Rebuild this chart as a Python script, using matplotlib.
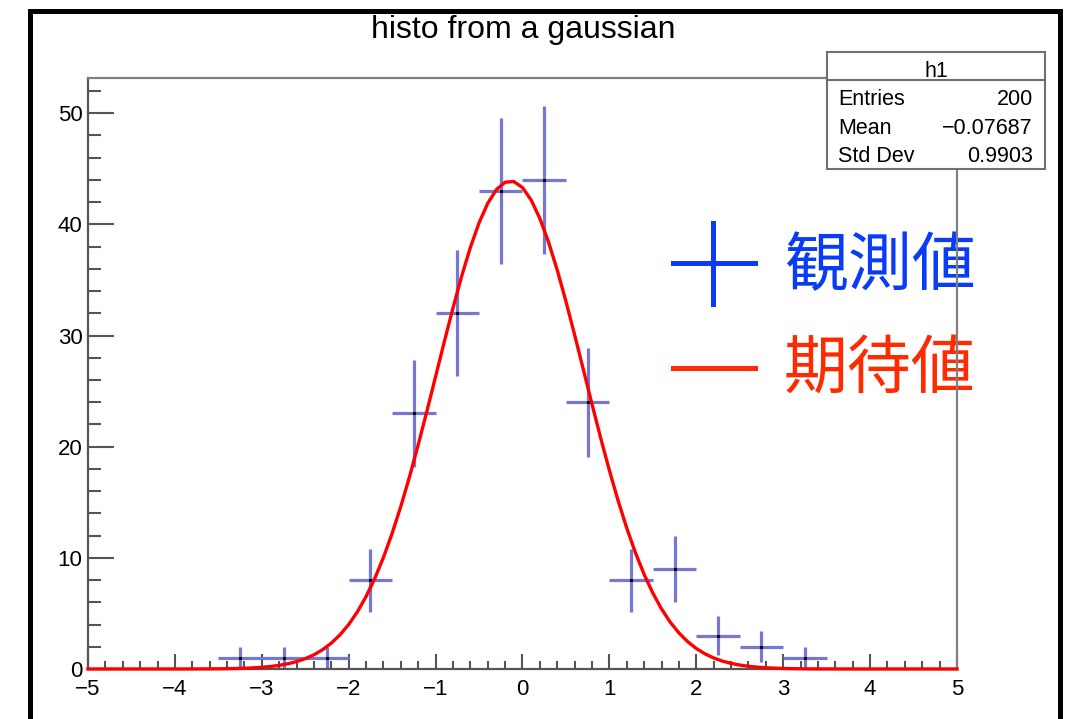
import numpy as np
import matplotlib
matplotlib.use("Agg")
import matplotlib.pyplot as plt
from matplotlib.patches import Rectangle
from matplotlib.lines import Line2D

plt.rcParams['font.family'] = ['Liberation Sans', 'DejaVu Sans']

# histogram h1: 20 bins of width 0.5 on [-5, 5], only non-empty bins listed
bin_centers = [-3.25, -2.75, -2.25, -1.75, -1.25, -0.75, -0.25, 0.25, 0.75, 1.25, 1.75, 2.25, 2.75, 3.25]
counts = [1, 1, 1, 8, 23, 32, 43, 44, 24, 8, 9, 3, 2, 1]
bin_width = 0.5

# gaussian fit parameters (constant, mean, sigma)
fit_const = 43.9
fit_mean = -0.14
fit_sigma = 0.85

stats_labels = ["Entries", "Mean", "Std Dev"]
stats_values = ["200", "\u22120.07687", "0.9903"]

W, H = 1072, 719


def fx(x):
    return x / W


def fy(y):
    return 1 - y / H


fig = plt.figure(figsize=(W / 100, H / 100), dpi=100)
ax = fig.add_axes([fx(88), fy(669), fx(957) - fx(88), fy(78) - fy(669)])

centers = np.array(bin_centers)
n = np.array(counts, dtype=float)
ax.errorbar(centers, n, xerr=bin_width / 2, yerr=np.sqrt(n), fmt='none',
            ecolor='#7676d4', elinewidth=2.3, capsize=0, zorder=2)
ax.plot(centers, n, 's', ms=1.2, color='black', zorder=2.1)

xf = np.linspace(-5, 5, 101)
ax.plot(xf, fit_const * np.exp(-0.5 * ((xf - fit_mean) / fit_sigma) ** 2),
        color='#ff0000', lw=2.4, zorder=3, clip_on=False)

ax.set_xlim(-5, 5)
ax.set_ylim(0, 1.05 * (max(n) + np.sqrt(max(n))))
ax.set_xticks(np.arange(-5, 6, 1))
ax.set_xticks(np.arange(-5, 5.01, 0.2), minor=True)
ax.set_yticks(np.arange(0, 51, 10))
ax.set_yticks(np.arange(0, 53, 2), minor=True)

ax.tick_params(axis='x', which='major', direction='in', length=10.8, width=1.5,
               color='#555555', labelsize=16, pad=7)
ax.tick_params(axis='x', which='minor', direction='in', length=5.8, width=1.5,
               color='#555555')
ax.tick_params(axis='y', which='major', direction='in', length=18.7, width=1.5,
               color='#555555', labelsize=16, pad=4)
ax.tick_params(axis='y', which='minor', direction='in', length=9.4, width=1.5,
               color='#555555')

for side in ['left', 'bottom']:
    ax.spines[side].set_color('#555555')
    ax.spines[side].set_linewidth(1.6)
for side in ['top', 'right']:
    ax.spines[side].set_color('#808080')
    ax.spines[side].set_linewidth(1.6)

fig.text(fx(523), fy(38), "histo from a gaussian", fontsize=23,
         ha='center', va='baseline')

# observed / expected key, drawn under the frame lines
ax.text(fx(784), fy(267), "観測値", transform=fig.transFigure, fontsize=46,
        color='#0a3cf5', va='center', ha='left', zorder=1,
        family=['Noto Sans CJK JP', 'DejaVu Sans'])
ax.text(fx(784), fy(370), "期待値", transform=fig.transFigure, fontsize=46,
        color='#ff2a00', va='center', ha='left', zorder=1,
        family=['Noto Sans CJK JP', 'DejaVu Sans'])
fig.add_artist(Line2D([fx(673), fx(755)], [fy(263), fy(263)], color='#0a3cf5', lw=3.6,
                      transform=fig.transFigure))
fig.add_artist(Line2D([fx(713), fx(713)], [fy(223), fy(304)], color='#0a3cf5', lw=3.6,
                      transform=fig.transFigure))
fig.add_artist(Line2D([fx(673), fx(755)], [fy(368), fy(368)], color='#ff2a00', lw=3.6,
                      transform=fig.transFigure))

# statistics box
box_l, box_r, box_t, box_b, box_mid = 827, 1045, 52, 169, 80
fig.add_artist(Rectangle((fx(box_l), fy(box_b)), fx(box_r) - fx(box_l), fy(box_t) - fy(box_b),
                         transform=fig.transFigure, facecolor='white', edgecolor='#707070',
                         lw=1.5, zorder=5))
fig.add_artist(Line2D([fx(box_l), fx(box_r)], [fy(box_mid), fy(box_mid)], color='#707070',
                      lw=1.5, transform=fig.transFigure, zorder=6))
fig.text(fx(936), fy(77), "h1", fontsize=15.5, ha='center', va='baseline', zorder=7)
for i, (lab, val) in enumerate(zip(stats_labels, stats_values)):
    yb = fy(105 + i * 28.5)
    fig.text(fx(838), yb, lab, fontsize=15.5, ha='left', va='baseline', zorder=7)
    fig.text(fx(1033), yb, val, fontsize=15.5, ha='right', va='baseline', zorder=7)

# canvas border
fig.add_artist(Rectangle((fx(29.5), fy(760)), fx(1059.5) - fx(29.5), fy(10.5) - fy(760),
                         transform=fig.transFigure, facecolor='none', edgecolor='black',
                         lw=3.6, zorder=8))

fig.savefig("out.png", dpi=100)
